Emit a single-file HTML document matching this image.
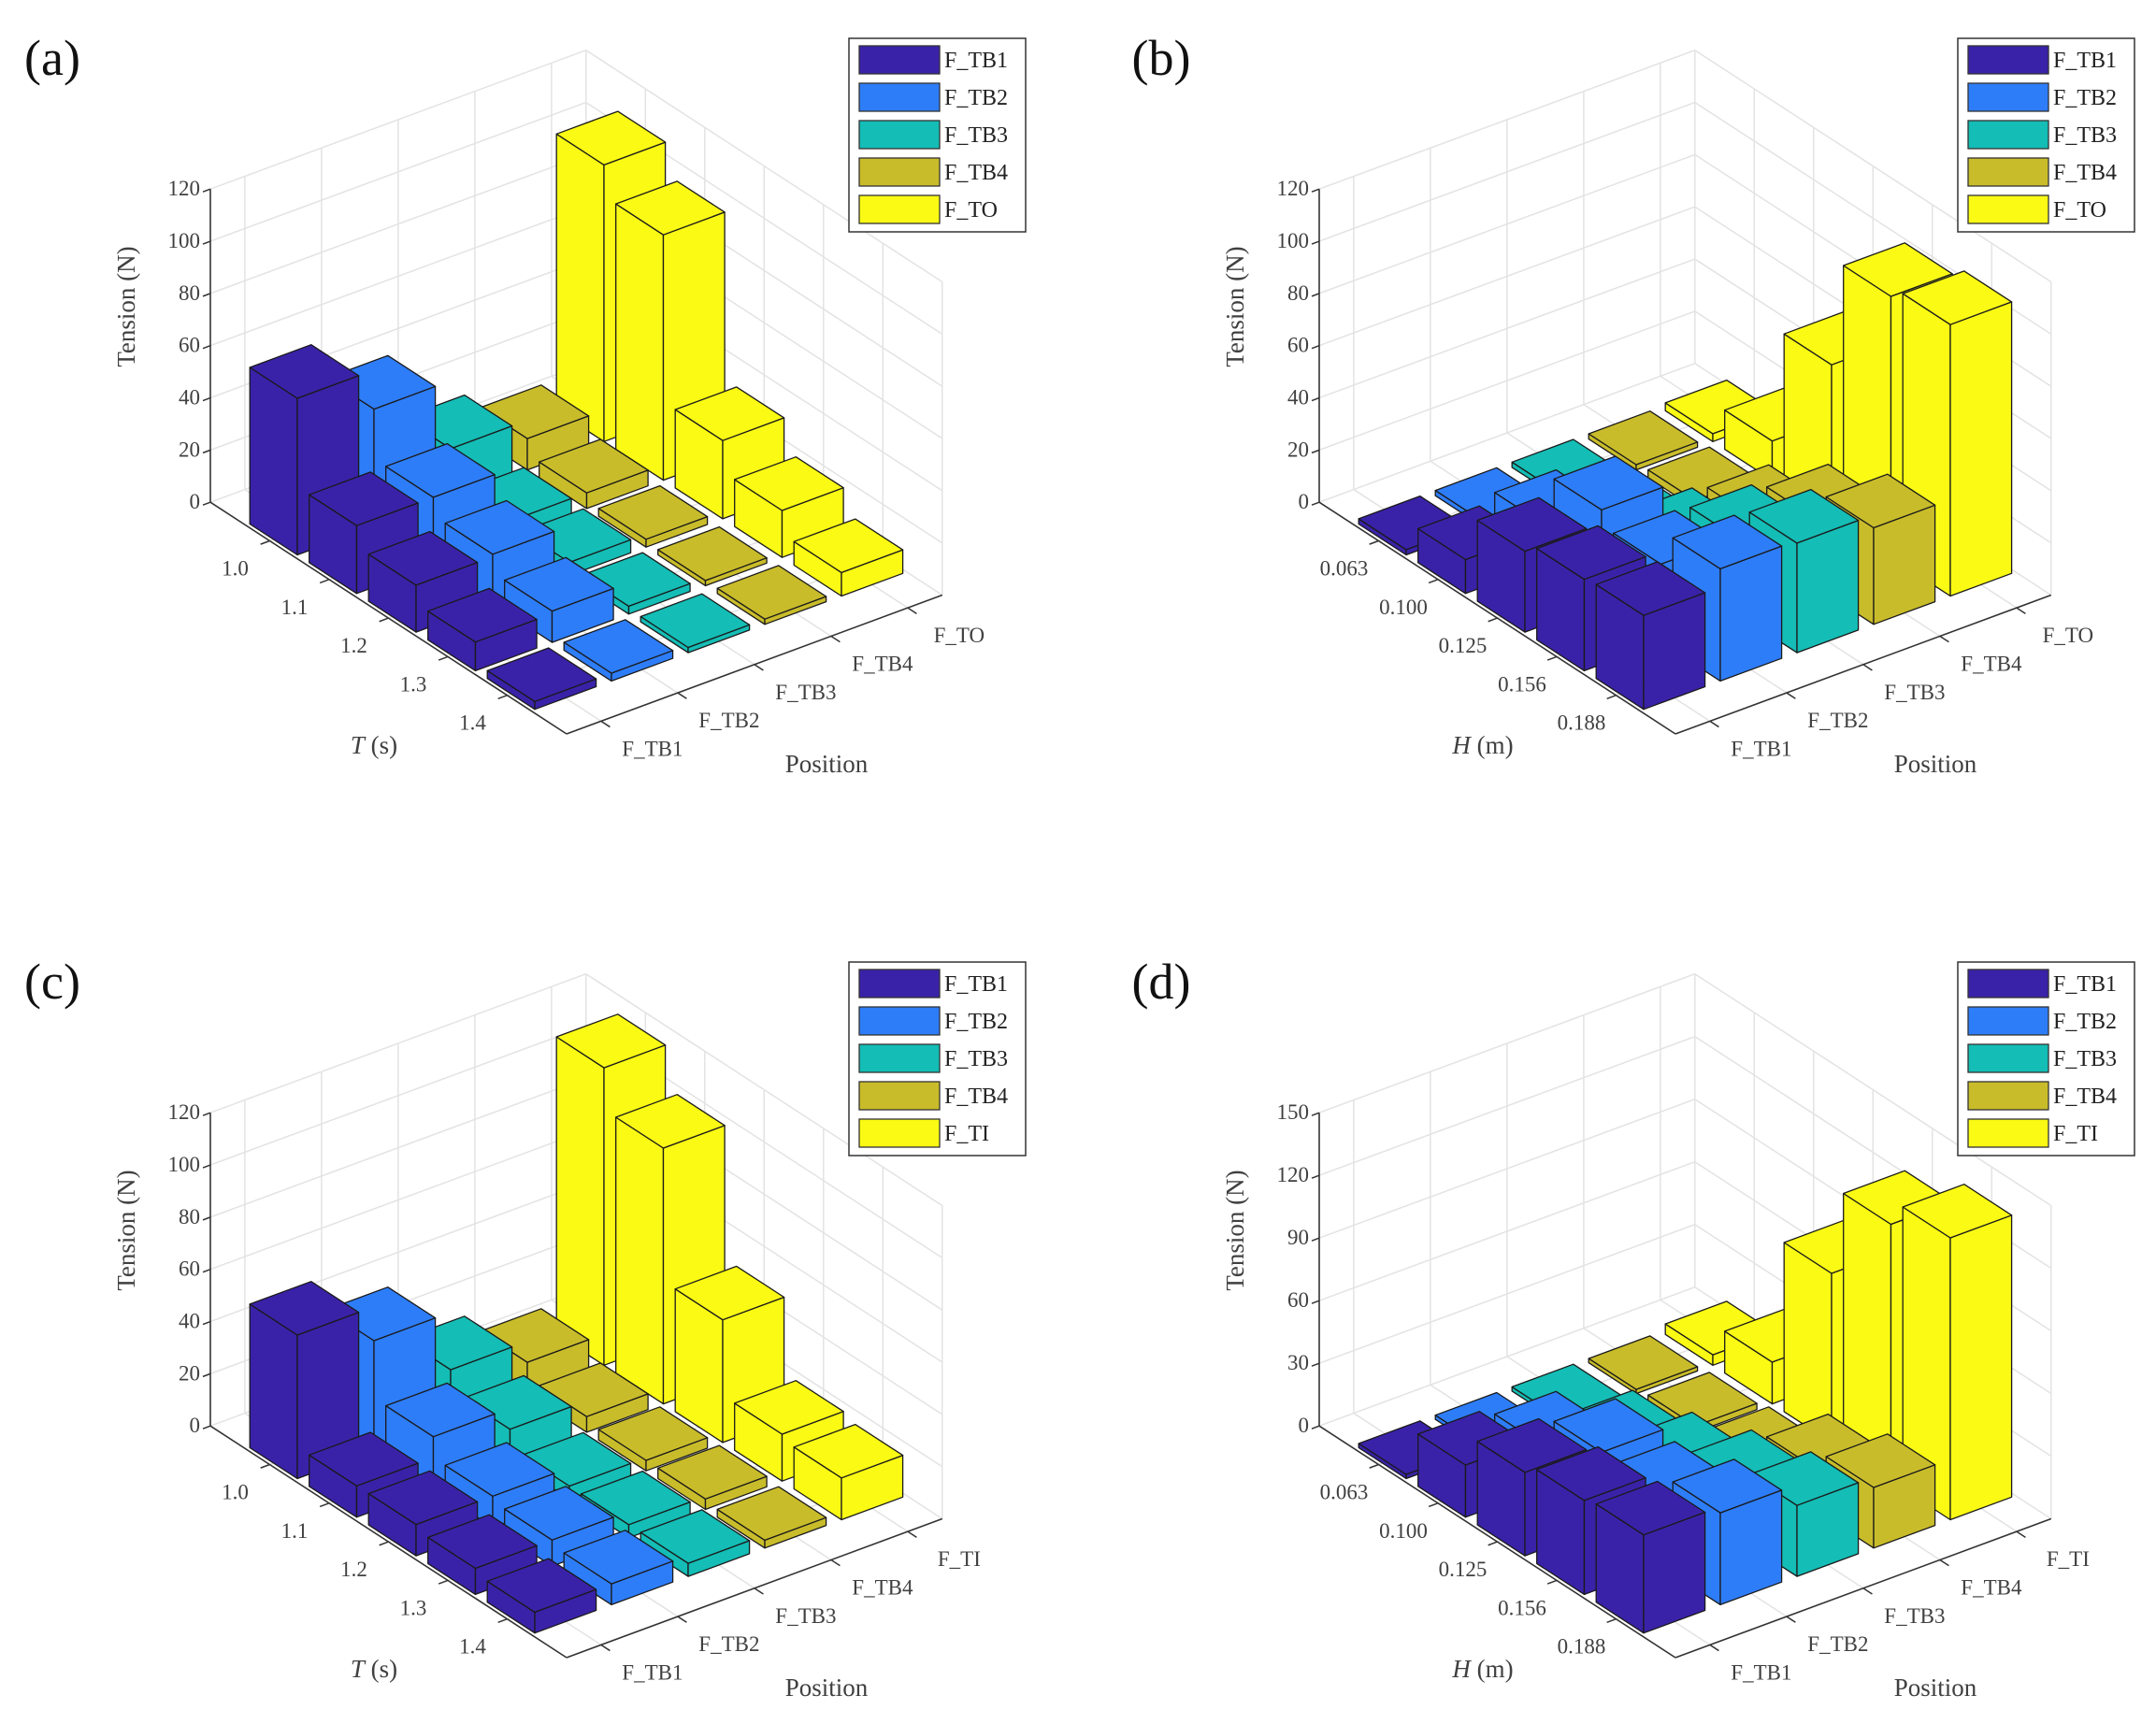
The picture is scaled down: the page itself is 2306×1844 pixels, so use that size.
<!DOCTYPE html>
<html><head><meta charset="utf-8"><style>
html,body{margin:0;padding:0;background:#fff;}
svg{display:block;font-family:"Liberation Serif",serif;}
</style></head><body>
<svg id="fig" width="2306" height="1844" viewBox="0 0 2306 1844" xmlns="http://www.w3.org/2000/svg"></svg>
<script>
// ---- data ----
const catsT = ['1.0','1.1','1.2','1.3','1.4'];
const catsH = ['0.063','0.100','0.125','0.156','0.188'];
const posO = ['F_TB1','F_TB2','F_TB3','F_TB4','F_TO'];
const posI = ['F_TB1','F_TB2','F_TB3','F_TB4','F_TI'];
const ticksZ120 = [0,20,40,60,80,100,120];
const ticksZ150 = [0,30,60,90,120,150];
// panel a (rows = T, one array per position)
const a_TB1 = [60,26,18,11,3];
const a_TB2 = [45,26,19,12,3];
const a_TB3 = [19,6,5,3,2];
const a_TB4 = [12,6,3,2,2];
const a_TO  = [106,94,30,18,9];
// panel b (rows = H)
const b_TB1 = [2,13,31,35,36];
const b_TB2 = [2,16,36,30,43];
const b_TB3 = [2,5,13,29,42];
const b_TB4 = [2,3,11,26,37];
const b_TO  = [3,15,59,100,104];
// panel c
const c_TB1 = [55,12,12,10,8];
const c_TB2 = [42,20,12,10,8];
const c_TB3 = [20,12,5,5,5];
const c_TB4 = [12,6,4,4,3];
const c_TI  = [114,98,47,18,16];
// panel d
const d_TB1 = [2,25,40,45,47];
const d_TB2 = [2,21,36,34,44];
const d_TB3 = [2,8,16,26,34];
const d_TB4 = [2,3,5,20,29];
const d_TI  = [5,20,81,123,135];

const colors = ['#3a22a8','#2e7df8','#14bdb5','#c9bc2a','#fafa14'];
const NS='http://www.w3.org/2000/svg';
const svg=document.getElementById('fig');

function mk(tag, attrs, parent){
  const e=document.createElementNS(NS,tag);
  for(const k in attrs) e.setAttribute(k,attrs[k]);
  (parent||svg).appendChild(e);
  return e;
}

const panels=[
  {id:'a',ox:0,oy:0,cats:catsT,pos:posO,series:[a_TB1,a_TB2,a_TB3,a_TB4,a_TO],zmax:120,zt:ticksZ120,yl:'T',yu:' (s)'},
  {id:'b',ox:1186,oy:0,cats:catsH,pos:posO,series:[b_TB1,b_TB2,b_TB3,b_TB4,b_TO],zmax:120,zt:ticksZ120,yl:'H',yu:' (m)'},
  {id:'c',ox:0,oy:988,cats:catsT,pos:posI,series:[c_TB1,c_TB2,c_TB3,c_TB4,c_TI],zmax:120,zt:ticksZ120,yl:'T',yu:' (s)'},
  {id:'d',ox:1186,oy:988,cats:catsH,pos:posI,series:[d_TB1,d_TB2,d_TB3,d_TB4,d_TI],zmax:150,zt:ticksZ150,yl:'H',yu:' (m)'}
];

const Fx=606,Fy=785, uT=[63.5,41.3], uP=[82,-30.3], P0=0.55, P1=5.45, TMAX=6, ZPIX=335;

panels.forEach(P=>{
  const k=ZPIX/P.zmax;
  function proj(t,p,z){
    return [P.ox+Fx+(t-TMAX)*uT[0]+(p-P0)*uP[0], P.oy+Fy+(t-TMAX)*uT[1]+(p-P0)*uP[1]-z*k];
  }
  function pts(arr){return arr.map(a=>{const q=proj(a[0],a[1],a[2]);return q[0].toFixed(1)+','+q[1].toFixed(1);}).join(' ');}
  function line(a,b,attrs,g){const p=proj(...a),q=proj(...b);return mk('line',Object.assign({x1:p[0],y1:p[1],x2:q[0],y2:q[1]},attrs),g);}

  const g=mk('g',{});
  
  

  // grid
  const gg=mk('g',{stroke:'#e3e3e3','stroke-width':1.5,fill:'none'},g);
  
  
  P.zt.forEach(z=>{
    line([0,P0,z],[0,P1,z],{},gg);
    line([0,P1,z],[TMAX,P1,z],{},gg);
  });
  for(let i=1;i<=5;i++){
    line([0,i,0],[0,i,P.zmax],{},gg);
    line([i,P1,0],[i,P1,P.zmax],{},gg);
    line([i,P0,0],[i,P1,0],{},gg);
    line([0,i,0],[TMAX,i,0],{},gg);
  }
  line([0,P1,0],[0,P1,P.zmax],{},gg);
  line([TMAX,P1,0],[TMAX,P1,P.zmax],{},gg);

  // axes
  const ga=mk('g',{stroke:'#333','stroke-width':1.6,fill:'none'},g);
  
  
  line([0,P0,0],[0,P0,P.zmax],{},ga);
  line([0,P0,0],[TMAX,P0,0],{},ga);
  line([TMAX,P0,0],[TMAX,P1,0],{},ga);

  // z ticks
  P.zt.forEach(z=>{
    const q=proj(0,P0,z);
    const tk=mk('line',{x1:q[0]-8,y1:q[1]+3,x2:q[0],y2:q[1],stroke:'#333','stroke-width':1.5},g);
    
    
    const tx=mk('text',{x:q[0]-11,y:q[1]+7,'text-anchor':'end','font-size':23,fill:'#404040'},g);
    tx.textContent=z;
    
    
  });
  // category ticks
  P.cats.forEach((c,i)=>{
    const t=i+1;
    line([t,P0,0],[t,P0-0.12,0],{stroke:'#333','stroke-width':1.5},g);
    const q=proj(t,P0,0);
    const tx=mk('text',{x:q[0]-37,y:q[1]+37,'text-anchor':'middle','font-size':23,fill:'#404040'},g);
    tx.textContent=c;
    
    
  });
  P.pos.forEach((c,j)=>{
    const p=j+1;
    line([TMAX,p,0],[TMAX+0.15,p,0],{stroke:'#333','stroke-width':1.5},g);
    const q=proj(TMAX,p,0);
    const tx=mk('text',{x:q[0]+55,y:q[1]+37,'text-anchor':'middle','font-size':23,fill:'#404040'},g);
    tx.textContent=c;
    
    
  });

  // bars
  const bars=[];
  P.series.forEach((arr,j)=>arr.forEach((v,i)=>bars.push({t:i+1,p:j+1,v:v,c:colors[j]})));
  bars.sort((A,B)=>(A.t*uT[1]-A.p*(-uP[1]))-(B.t*uT[1]-B.p*(-uP[1])));
  const gb=mk('g',{stroke:'#1a1a1a','stroke-width':1.3,'stroke-linejoin':'round'},g);
  
  
  bars.forEach(b=>{
    const t0=b.t-0.4,t1=b.t+0.4,p0=b.p-0.4,p1=b.p+0.4,z=b.v;
    const bg=mk('g',{fill:b.c},gb);
    
    
    mk('polygon',{points:pts([[t0,p0,0],[t1,p0,0],[t1,p0,z],[t0,p0,z]])},bg);
    mk('polygon',{points:pts([[t1,p0,0],[t1,p1,0],[t1,p1,z],[t1,p0,z]])},bg);
    mk('polygon',{points:pts([[t0,p0,z],[t1,p0,z],[t1,p1,z],[t0,p1,z]])},bg);
  });

  // axis titles
  const zt=mk('text',{x:P.ox+144,y:P.oy+328,'text-anchor':'middle','font-size':27,fill:'#404040',transform:`rotate(-90 ${P.ox+144} ${P.oy+328})`},g);
  zt.textContent='Tension (N)';
  
  
  const yt=mk('text',{x:P.ox+400,y:P.oy+806,'text-anchor':'middle','font-size':27,fill:'#404040'},g);
  const ti=mk('tspan',{'font-style':'italic'},yt); ti.textContent=P.yl;
  const tu=mk('tspan',{},yt); tu.textContent=P.yu;
  
  
  const xt=mk('text',{x:P.ox+884,y:P.oy+826,'text-anchor':'middle','font-size':27,fill:'#404040'},g);
  xt.textContent='Position';
  
  

  // panel label
  const pl=mk('text',{x:P.ox+56,y:P.oy+80,'text-anchor':'middle','font-size':54,fill:'#111'},g);
  pl.textContent='('+P.id+')';
  
  

  // legend
  const lg=mk('g',{},g);
  
  
  mk('rect',{x:P.ox+908,y:P.oy+41,width:189,height:207,fill:'#fff',stroke:'#333','stroke-width':1.5},lg);
  P.pos.forEach((name,j)=>{
    const e=mk('g',{},lg);
    
    
    const cy=P.oy+64+j*40;
    mk('rect',{x:P.ox+919,y:cy-15,width:86,height:30,fill:colors[j],stroke:'#333','stroke-width':1.3},e);
    const tx=mk('text',{x:P.ox+1010,y:cy+8,'font-size':24,fill:'#222'},e);
    tx.textContent=name;
  });
});
</script>
</body></html>
